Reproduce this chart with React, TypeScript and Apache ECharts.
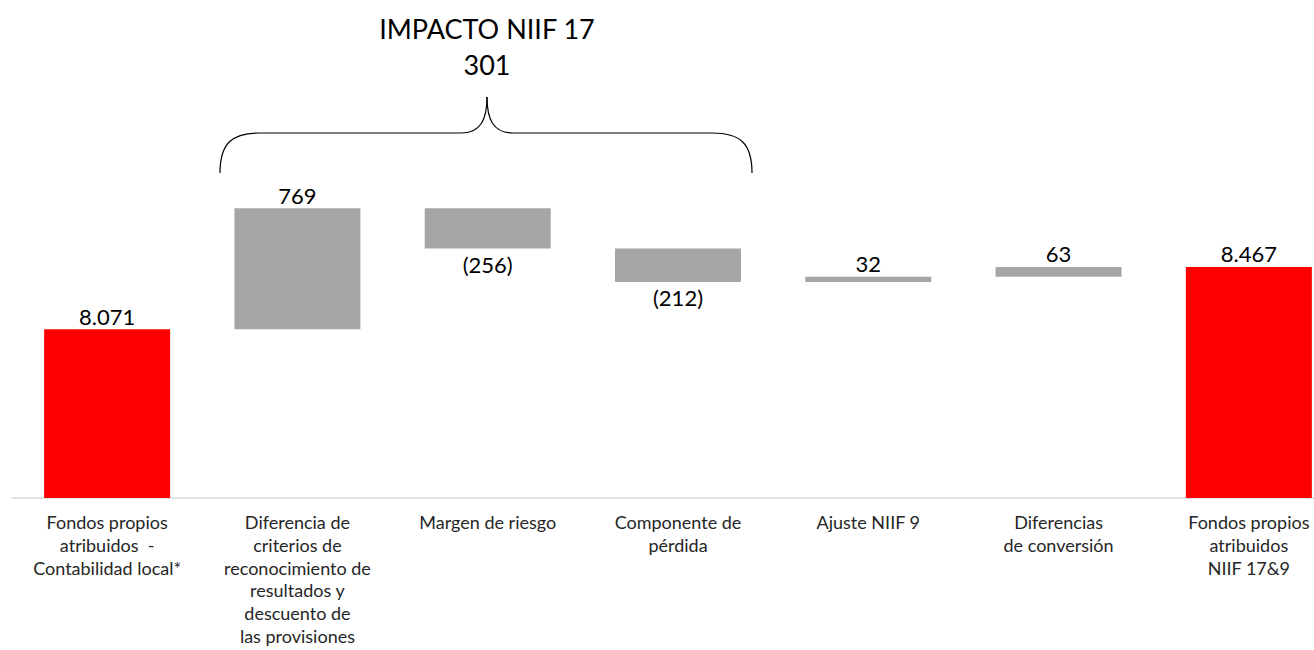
import React, { useEffect, useRef } from "react";
import * as echarts from "echarts";

const categories = [
  "Fondos propios\natribuidos  -\nContabilidad local*",
  "Diferencia de\ncriterios de\nreconocimiento de\nresultados y\ndescuento de\nlas provisiones",
  "Margen de riesgo",
  "Componente de\npérdida",
  "Ajuste NIIF 9",
  "Diferencias\nde conversión",
  "Fondos propios\natribuidos\nNIIF 17&9",
];
const changes = [8071, 769, -256, -212, 32, 63, 8467];
const isTotal = [true, false, false, false, false, false, true];
const bracketTitle = "IMPACTO NIIF 17";
const bracketValue = "301";

const FONT = "Lato, 'Open Sans', sans-serif";

function fmt(v: number): string {
  const a = Math.abs(v);
  const s = a.toString().replace(/\B(?=(\d{3})+(?!\d))/g, ".");
  return v < 0 ? `(${s})` : s;
}

export default function App() {
  const ref = useRef<HTMLDivElement>(null);
  useEffect(() => {
    if (!ref.current) return;
    const chart = echarts.init(ref.current, undefined, { renderer: "svg" });

    const bases: number[] = [];
    const heights: number[] = [];
    let running = 0;
    changes.forEach((c, i) => {
      if (isTotal[i]) {
        bases.push(0);
        heights.push(c);
        running = c;
      } else if (c >= 0) {
        bases.push(running);
        heights.push(c);
        running += c;
      } else {
        running += c;
        bases.push(running);
        heights.push(-c);
      }
    });

    const bx1 = 220, bx2 = 752, bc = 487, yEnd = 173, yMid = 133, yTip = 97;
    const lineStyle = { stroke: "#000", lineWidth: 1.2, fill: "none" };

    chart.setOption({
      animation: false,
      grid: { left: 12, right: 2, top: 183, height: 315, containLabel: false },
      xAxis: {
        type: "category",
        data: categories,
        axisLine: { show: true, lineStyle: { color: "#d9d9d9", width: 1.5 } },
        axisTick: { show: false },
        axisLabel: {
          interval: 0,
          margin: 13,
          fontFamily: FONT,
          fontSize: 18,
          lineHeight: 22.7,
          color: "#262626",
        },
      },
      yAxis: {
        type: "value",
        min: 7000,
        max: 9000,
        show: false,
        splitLine: { show: false },
      },
      series: [
        {
          type: "bar",
          stack: "w",
          data: bases,
          barWidth: 126,
          itemStyle: { color: "transparent" },
          emphasis: { disabled: true },
          silent: true,
        },
        {
          type: "bar",
          stack: "w",
          barWidth: 126,
          data: heights.map((h, i) => ({
            value: h,
            itemStyle: { color: isTotal[i] ? "#ff0000" : "#a6a6a6" },
            label: {
              show: true,
              position: changes[i] < 0 ? "bottom" : "top",
              distance: changes[i] < 0 ? 5 : 2,
              formatter: () => fmt(changes[i]),
              fontFamily: FONT,
              fontSize: 22,
              color: "#000",
            },
          })),
        },
      ],
      graphic: [
        {
          type: "text",
          x: bc,
          y: 28,
          style: {
            text: bracketTitle,
            textAlign: "center",
            textVerticalAlign: "middle",
            fontFamily: FONT,
            fontSize: 27,
            fill: "#000",
          },
        },
        {
          type: "text",
          x: bc,
          y: 64,
          style: {
            text: bracketValue,
            textAlign: "center",
            textVerticalAlign: "middle",
            fontFamily: FONT,
            fontSize: 27,
            fill: "#000",
          },
        },
        {
          type: "bezierCurve",
          shape: { x1: bx1, y1: yEnd, cpx1: bx1, cpy1: yMid + 10, cpx2: bx1 + 12, cpy2: yMid, x2: bx1 + 40, y2: yMid },
          style: lineStyle,
        },
        { type: "line", shape: { x1: bx1 + 40, y1: yMid, x2: bc - 26, y2: yMid }, style: lineStyle },
        {
          type: "bezierCurve",
          shape: { x1: bc - 26, y1: yMid, cpx1: bc - 6, cpy1: yMid, cpx2: bc, cpy2: yMid - 14, x2: bc, y2: yTip },
          style: lineStyle,
        },
        {
          type: "bezierCurve",
          shape: { x1: bc, y1: yTip, cpx1: bc, cpy1: yMid - 14, cpx2: bc + 6, cpy2: yMid, x2: bc + 26, y2: yMid },
          style: lineStyle,
        },
        { type: "line", shape: { x1: bc + 26, y1: yMid, x2: bx2 - 40, y2: yMid }, style: lineStyle },
        {
          type: "bezierCurve",
          shape: { x1: bx2 - 40, y1: yMid, cpx1: bx2 - 12, cpy1: yMid, cpx2: bx2, cpy2: yMid + 10, x2: bx2, y2: yEnd },
          style: lineStyle,
        },
      ],
    });
    return () => chart.dispose();
  }, []);
  return (
    <div
      style={{
        position: "fixed",
        left: 0,
        top: 0,
        width: 1314,
        height: 650,
        overflow: "hidden",
        background: "#fff",
      }}
    >
      <div ref={ref} style={{ width: 1346, height: 650 }} />
    </div>
  );
}
